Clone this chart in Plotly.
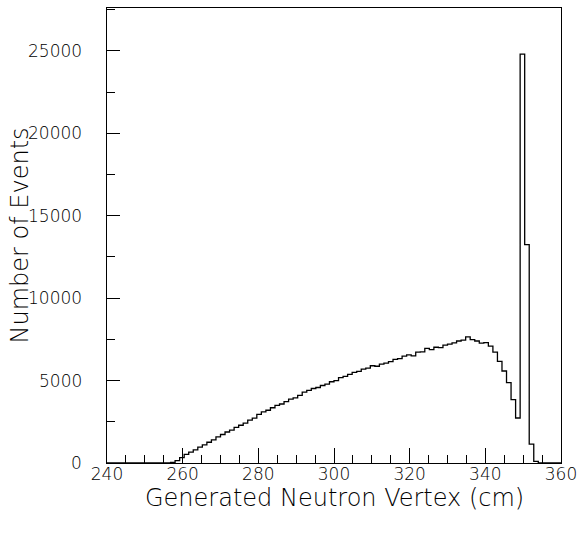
import plotly.graph_objects as go

# Histogram: 100 bins of 1.2 cm from 240 to 360
x_min = 240.0
bin_width = 1.2
n_bins = 100

first_bin = 14  # index of first non-empty bin (256.8 cm)
counts_nonzero = [
    40, 150, 330, 520, 660, 800, 960, 1100, 1260, 1400,
    1580, 1730, 1880, 1990, 2160, 2290, 2420, 2600, 2720, 2950,
    3100, 3200, 3350, 3500, 3580, 3720, 3870, 3950, 4100, 4300,
    4400, 4520, 4580, 4700, 4780, 4930, 5000, 5180, 5260, 5380,
    5500, 5560, 5700, 5760, 5900, 5870, 6000, 6060, 6150, 6280,
    6330, 6480, 6560, 6500, 6720, 6740, 6950, 6880, 7020, 7000,
    7150, 7210, 7290, 7400, 7450, 7650, 7480, 7400, 7270, 7300,
    7090, 6730, 6160, 5580, 4870, 3840, 2730, 24800, 13250, 1150,
    100,
]

counts = [0] * n_bins
for i, c in enumerate(counts_nonzero):
    counts[first_bin + i] = c

edges = [x_min + bin_width * k for k in range(n_bins + 1)]

x_tick_vals = [240, 260, 280, 300, 320, 340, 360]
y_tick_vals = [0, 5000, 10000, 15000, 20000, 25000]
x_title = "Generated Neutron Vertex (cm)"
y_title = "Number of Events"

# step outline (hv)
xs = edges[:-1] + [edges[-1]]
ys = counts + [counts[-1]]

font_family = "DejaVu Sans"
W, H = 579, 551
ML, MR, MT, MB = 107, 18, 8, 88
PW, PH = W - ML - MR, H - MT - MB

fig = go.Figure()
fig.add_trace(go.Scatter(
    x=xs, y=ys, mode="lines", line=dict(shape="hv", color="black", width=1.3),
    showlegend=False, hoverinfo="skip",
))

fig.update_layout(
    width=W, height=H,
    margin=dict(l=ML, r=MR, t=MT, b=MB),
    paper_bgcolor="white", plot_bgcolor="white",
    font=dict(family=font_family, color="black", size=17),
)

fig.update_xaxes(
    range=[240, 360], tickvals=x_tick_vals, ticktext=[str(v) for v in x_tick_vals],
    automargin=False,
    ticks="inside", ticklen=15, tickwidth=1, tickcolor="black",
    minor=dict(dtick=5, tick0=240, ticks="inside", ticklen=8, tickwidth=1, tickcolor="black"),
    showline=True, linecolor="black", linewidth=1.3, mirror=True,
    showgrid=False, zeroline=False,
    ticklabelstandoff=-5,
    tickfont=dict(family=font_family, size=17, color="black", weight=200),
)
fig.update_yaxes(
    range=[0, 27600], tickvals=y_tick_vals, showticklabels=False,
    automargin=False,
    ticks="inside", ticklen=13, tickwidth=1, tickcolor="black",
    minor=dict(dtick=2500, tick0=0, ticks="inside", ticklen=8, tickwidth=1, tickcolor="black"),
    showline=True, linecolor="black", linewidth=1.3, mirror=True,
    showgrid=False, zeroline=False,
)

# y tick labels placed on the y scale
for v in y_tick_vals:
    fig.add_annotation(
        text=str(v), xref="paper", yref="y",
        x=-(ML - 84) / PW, y=v,
        xanchor="right", yanchor="middle", showarrow=False,
        font=dict(family=font_family, size=17, color="black", weight=200),
    )

fig.add_annotation(
    text=x_title, xref="paper", yref="paper",
    x=0.5, y=-(498 - (H - MB)) / PH,
    xanchor="center", yanchor="middle", showarrow=False,
    font=dict(family=font_family, size=24, color="black", weight=200),
)
fig.add_annotation(
    text=y_title, xref="paper", yref="paper",
    x=-(ML - 19) / PW, y=0.5, textangle=-90,
    xanchor="center", yanchor="middle", showarrow=False,
    font=dict(family=font_family, size=24, color="black", weight=200),
)

fig.write_html("out.html")
